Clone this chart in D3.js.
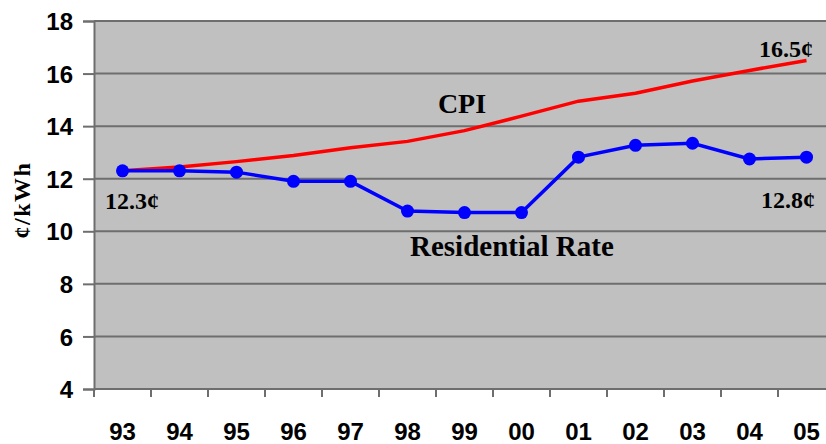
<!DOCTYPE html>
<html>
<head>
<meta charset="utf-8">
<script src="https://cdn.jsdelivr.net/npm/d3@7"></script>
<style>
    body { margin: 0; background: #fff; }
    svg { display: block; }
    .tick-label { font-family: "Liberation Sans", Arial, sans-serif; font-weight: bold; font-size: 24px; fill: #000; }
    .serif { font-family: "Liberation Serif", "Times New Roman", serif; font-weight: bold; fill: #000; }
</style>
</head>
<body>
<div id="chart"></div>
<script>
const years = ["93", "94", "95", "96", "97", "98", "99", "00", "01", "02", "03", "04", "05"];
const residential = [12.3, 12.3, 12.25, 11.9, 11.9, 10.77, 10.71, 10.71, 12.82, 13.27, 13.35, 12.75, 12.82];
const cpi = [12.3, 12.45, 12.65, 12.88, 13.18, 13.42, 13.83, 14.38, 14.95, 15.25, 15.72, 16.12, 16.5];
const yTicks = [4, 6, 8, 10, 12, 14, 16, 18];

const W = 826, H = 444;
const plot = { left: 94, right: 835, top: 21, bottom: 389 };

const svg = d3.select("#chart").append("svg")
    .attr("width", W)
    .attr("height", H);

const x = d3.scaleBand().domain(years).range([plot.left, plot.right]).padding(0);
const y = d3.scaleLinear().domain([4, 18]).range([plot.bottom, plot.top]);

// plot background
svg.append("rect")
    .attr("x", plot.left).attr("y", plot.top)
    .attr("width", plot.right - plot.left).attr("height", plot.bottom - plot.top)
    .attr("fill", "#c0c0c0");

// horizontal grid
svg.append("g")
    .selectAll("line")
    .data(yTicks.filter(d => d > 4))
    .enter().append("line")
    .attr("x1", plot.left).attr("x2", plot.right)
    .attr("y1", d => y(d)).attr("y2", d => y(d))
    .attr("stroke", "#6e6e6e")
    .attr("stroke-width", 2);

// y axis
const yAxis = svg.append("g")
    .attr("transform", `translate(${plot.left},0)`)
    .call(d3.axisLeft(y).tickValues(yTicks).tickSize(11).tickPadding(10).tickFormat(d3.format("d")));
yAxis.select(".domain").attr("stroke", "#6e6e6e").attr("stroke-width", 2);
yAxis.selectAll(".tick line").attr("stroke", "#6e6e6e").attr("stroke-width", 2);
yAxis.selectAll(".tick text").attr("class", "tick-label").attr("dy", "0.36em");

// x axis (ticks on band edges)
svg.append("line")
    .attr("x1", plot.left).attr("x2", plot.right)
    .attr("y1", plot.bottom).attr("y2", plot.bottom)
    .attr("stroke", "#6e6e6e").attr("stroke-width", 2);

svg.append("g")
    .selectAll("line")
    .data(years)
    .enter().append("line")
    .attr("x1", d => x(d)).attr("x2", d => x(d))
    .attr("y1", plot.bottom).attr("y2", plot.bottom + 8)
    .attr("stroke", "#6e6e6e").attr("stroke-width", 2);

svg.append("g")
    .selectAll("text")
    .data(years)
    .enter().append("text")
    .attr("class", "tick-label")
    .attr("x", d => x(d) + x.bandwidth() / 2)
    .attr("y", 440)
    .attr("text-anchor", "middle")
    .text(d => d);

// y axis title
svg.append("text")
    .attr("class", "serif")
    .attr("transform", "translate(30,200) rotate(-90)")
    .attr("text-anchor", "middle")
    .style("font-size", "24px")
    .style("letter-spacing", "1.5px")
    .text("¢/kWh");

const cx = (d, i) => x(years[i]) + x.bandwidth() / 2;
const line = d3.line().x(cx).y(d => y(d));

svg.append("path")
    .datum(cpi)
    .attr("d", line)
    .attr("fill", "none")
    .attr("stroke", "#ff0000")
    .attr("stroke-width", 3.5);

svg.append("path")
    .datum(residential)
    .attr("d", line)
    .attr("fill", "none")
    .attr("stroke", "#0000ff")
    .attr("stroke-width", 3.5);

svg.append("g")
    .selectAll("circle")
    .data(residential)
    .enter().append("circle")
    .attr("cx", cx)
    .attr("cy", d => y(d))
    .attr("r", 6.5)
    .attr("fill", "#0000ff");

// annotations
const notes = [
    { t: "CPI", x: 462, y: 113, size: 28, anchor: "middle" },
    { t: "Residential Rate", x: 410, y: 256, size: 29, anchor: "start" },
    { t: "12.3¢", x: 105, y: 209, size: 24, anchor: "start" },
    { t: "16.5¢", x: 813, y: 57, size: 24, anchor: "end" },
    { t: "12.8¢", x: 815, y: 208, size: 24, anchor: "end" }
];
svg.append("g")
    .selectAll("text")
    .data(notes)
    .enter().append("text")
    .attr("class", "serif")
    .attr("x", d => d.x)
    .attr("y", d => d.y)
    .attr("text-anchor", d => d.anchor)
    .style("font-size", d => d.size + "px")
    .text(d => d.t);
</script>
</body>
</html>
